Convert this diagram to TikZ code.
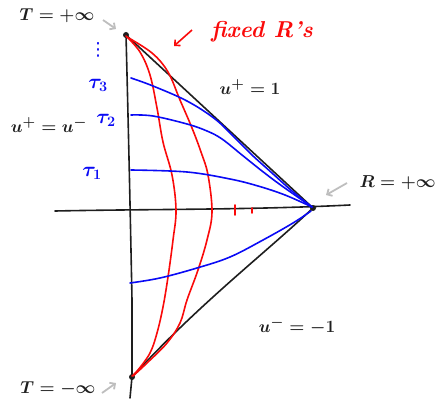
\documentclass[tikz,border=0pt]{standalone}
\usepackage{fontspec}
\newfontfamily\symfont{DejaVu Sans}
\usetikzlibrary{arrows.meta}
\definecolor{ink}{RGB}{30,30,30}
\definecolor{pen}{RGB}{10,10,245}
\definecolor{rpen}{RGB}{250,10,10}
\definecolor{hint}{RGB}{190,190,190}
\tikzset{
  edge/.style={draw=ink, line width=1.6pt, line cap=round, line join=round},
  tcurve/.style={draw=pen, line width=1.6pt, line cap=round},
  rcurve/.style={draw=rpen, line width=1.6pt, line cap=round},
  pointer/.style={draw=hint, line width=1.8pt, -{Straight Barb[length=4pt,width=8pt]}},
  rpointer/.style={draw=rpen, line width=1.6pt, -{Straight Barb[length=4pt,width=8pt]}},
  lbl/.style={text=ink, font=\fontsize{19}{21}\selectfont\boldmath, inner sep=0pt},
  blbl/.style={text=pen, font=\fontsize{21}{23}\selectfont\boldmath, inner sep=0pt},
  rlbl/.style={text=rpen, font=\fontsize{23}{25}\selectfont\itshape\bfseries, inner sep=0pt},
  vtx/.style={circle, fill=ink, inner sep=0pt, minimum size=6pt}
}
\begin{document}
\begin{tikzpicture}[x=1pt,y=-1pt]
\useasboundingbox (0,0) rectangle (438,398);
% vertices
\node[vtx] (top) at (126,35) {};
\node[vtx] (right) at (313,208) {};
\node[vtx] (bot) at (132,377) {};
\coordinate (axl) at (55,211);
\coordinate (axr) at (350,205);
\coordinate (vb) at (130,398);
% axes
\draw[edge] (axl) .. controls (150,209) and (250,210) .. (axr);
\draw[edge] (top.center) .. controls (129,150) and (131,250) .. (132,300) -- (bot.center) -- (vb);
% triangle edges
\draw[edge] (top.center) -- (right.center);
\draw[edge] (right.center) .. controls (262,256) and (200,303) .. (bot.center);
% red curves (fixed R)
\draw[rcurve] plot[smooth, tension=0.6] coordinates {(126,36) (140,52) (150,75) (157,108) (163,142) (172,175) (176,210) (173,240) (168,277) (163,307) (157,333) (150,353) (138,370) (132,376)};
\draw[rcurve] plot[smooth, tension=0.6] coordinates {(127,37) (152,53) (168,72) (180,100) (192,128) (201,152) (208,175) (212,212) (207,240) (198,270) (187,300) (180,323) (167,343) (147,363) (133,376)};
% red ticks
\coordinate (tka) at (235,205);
\coordinate (tkb) at (235,215);
\coordinate (tkc) at (252,208);
\coordinate (tkd) at (252,213);
\draw[rcurve] (tka) -- (tkb);
\draw[rcurve] (tkc) -- (tkd);
% blue curves (fixed tau)
\draw[tcurve] plot[smooth, tension=0.6] coordinates {(131,78) (153,86) (187,101) (215,119) (235,138) (252,155) (272,173) (292,191) (312,207)};
\draw[tcurve] plot[smooth, tension=0.6] coordinates {(131,115) (153,116) (187,124) (207,131) (222,139) (242,155) (262,171) (282,186) (312,207)};
\draw[tcurve] plot[smooth, tension=0.6] coordinates {(131,170) (187,172) (230,179) (258,186) (285,195) (312,207)};
\draw[tcurve] plot[smooth, tension=0.6] coordinates {(130,283) (160,278) (197,268) (230,257) (263,240) (293,223) (311,211)};
% labels
\node[lbl] (ltop) at (57,16) {$T=+\infty$};
\node[lbl] (lbot) at (58,389) {$T=-\infty$};
\node[lbl, anchor=east] (lR) at (436,183) {$R=+\infty$};
\node[lbl] (lup) at (250,87) {$u^{+}=1$};
\node[lbl] (leq) at (49,125) {$u^{+}=u^{-}$};
\node[lbl] (ldn) at (297,326) {$u^{-}=-1$};
\node[blbl] (t3) at (98,85) {$\tau_3$};
\node[blbl] (t2) at (106,120) {$\tau_2$};
\node[blbl] (t1) at (92,173) {$\tau_1$};
\node[text=pen, font=\symfont\fontsize{18}{20}\selectfont, inner sep=0pt] (dots) at (98,50) {⋮};
\node[rlbl] (fix) at (262,32) {fixed R's};
% pointers
\coordinate (pa1) at (103,20);
\coordinate (pa2) at (116,29);
\draw[pointer] (pa1) -- (pa2);
\coordinate (pb1) at (347,183);
\coordinate (pb2) at (326,195);
\draw[pointer] (pb1) -- (pb2);
\coordinate (pc1) at (102,393);
\coordinate (pc2) at (116,383);
\draw[pointer] (pc1) -- (pc2);
\coordinate (pd1) at (192,30);
\coordinate (pd2) at (174,46);
\draw[rpointer] (pd1) -- (pd2);
\end{tikzpicture}
\end{document}
